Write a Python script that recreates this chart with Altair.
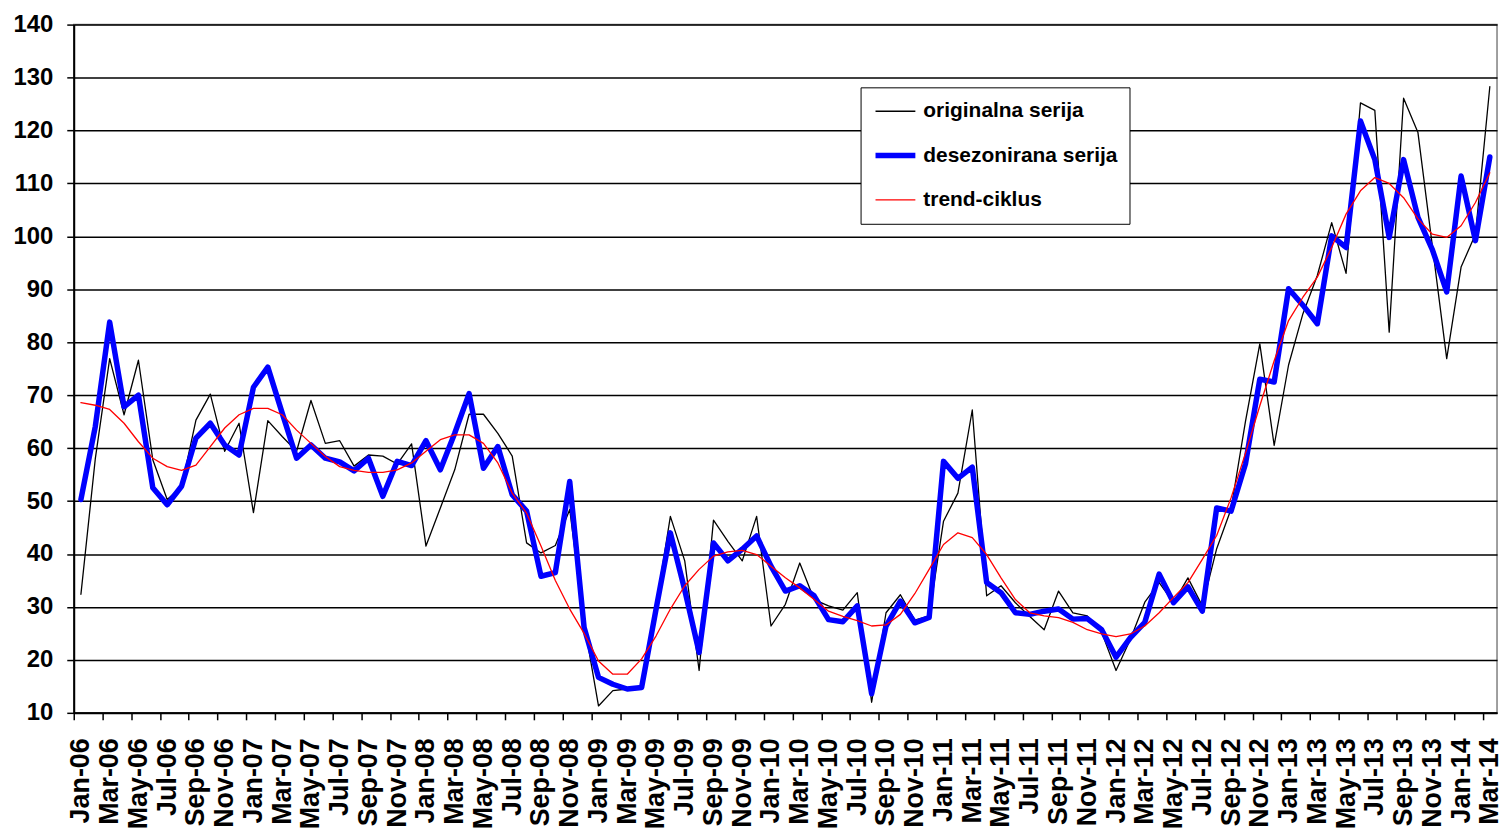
import altair as alt
import pandas as pd

month_names = ["Jan", "Feb", "Mar", "Apr", "May", "Jun", "Jul", "Aug", "Sep", "Oct", "Nov", "Dec"]
years = ["06", "07", "08", "09", "10", "11", "12", "13", "14"]
months = [f"{m}-{y}" for y in years for m in month_names][:99]  # Jan-06 .. Mar-14

series_names = ["originalna serija", "desezonirana serija", "trend-ciklus"]

original = [
    32.4, 58.0, 76.9, 66.3, 76.6, 57.8, 50.3, 52.7, 65.3, 70.2, 59.4, 64.7,
    47.8, 65.2, 62.2, 59.4, 69.0, 60.9, 61.4, 56.6, 58.7, 58.5, 57.0, 60.8,
    41.5, 48.7, 55.9, 66.4, 66.4, 62.8, 58.5, 42.1, 40.2, 41.6, 48.4, 27.0,
    11.3, 14.2, 14.5, 14.8, 30.0, 47.1, 38.7, 18.0, 46.4, 42.4, 38.7, 47.1,
    26.4, 30.5, 38.3, 31.4, 30.2, 29.4, 32.7, 12.0, 28.9, 32.3, 27.5, 28.3,
    46.2, 51.5, 67.2, 32.1, 34.0, 30.8, 28.2, 25.7, 33.0, 28.9, 28.3, 25.2,
    18.0, 23.9, 30.9, 34.6, 30.8, 35.5, 30.2, 41.0, 48.5, 65.0, 79.7, 60.5,
    75.7, 85.4, 92.6, 102.6, 93.0, 125.2, 123.8, 81.9, 126.1, 119.6, 98.2, 76.9,
    94.2, 100.4, 128.3,
]

deseasonal = [
    50.3, 64.1, 83.8, 67.8, 70.0, 52.5, 49.3, 52.8, 61.9, 64.7, 60.6, 58.7,
    71.5, 75.3, 66.6, 58.1, 60.6, 58.1, 57.4, 55.7, 58.1, 50.9, 57.5, 56.7,
    61.4, 55.9, 62.8, 70.3, 56.2, 60.3, 51.2, 48.1, 35.8, 36.5, 53.7, 26.1,
    16.7, 15.4, 14.5, 14.8, 29.5, 44.0, 33.2, 21.4, 42.1, 38.7, 40.9, 43.4,
    37.7, 33.0, 34.0, 32.1, 27.6, 27.2, 30.2, 13.6, 26.4, 31.1, 27.0, 28.0,
    57.5, 54.3, 56.4, 34.6, 32.7, 28.9, 28.6, 29.2, 29.6, 27.7, 27.8, 25.7,
    20.5, 24.2, 27.1, 36.2, 30.8, 33.8, 29.2, 48.7, 48.1, 57.0, 73.0, 72.5,
    90.1, 87.0, 83.5, 100.1, 97.9, 121.8, 114.5, 99.8, 114.5, 103.6, 97.5, 89.5,
    111.4, 99.2, 115.0,
]

trend = [
    68.6, 68.1, 67.3, 64.7, 61.2, 58.1, 56.5, 55.8, 56.8, 60.3, 63.8, 66.3,
    67.5, 67.5, 66.3, 63.4, 60.9, 58.4, 56.5, 55.8, 55.4, 55.4, 55.9, 57.2,
    59.4, 61.6, 62.5, 62.5, 60.9, 57.2, 51.5, 47.7, 41.5, 35.0, 29.6, 25.0,
    19.8, 17.3, 17.3, 20.2, 24.5, 29.6, 34.0, 37.1, 39.6, 40.4, 40.7, 39.9,
    37.7, 35.5, 33.6, 31.4, 29.2, 28.2, 27.4, 26.4, 26.6, 28.6, 32.5, 37.1,
    41.8, 44.0, 43.1, 39.9, 35.5, 31.4, 28.9, 28.3, 28.0, 27.1, 25.7, 24.9,
    24.4, 24.9, 26.4, 28.9, 31.8, 34.6, 39.0, 43.5, 50.6, 59.0, 68.0, 76.5,
    84.1, 88.5, 92.3, 97.9, 104.2, 108.6, 111.1, 110.0, 107.3, 103.3, 100.4, 99.8,
    102.0, 106.4, 112.0,
]

y_ticks = list(range(10, 141, 10))
x_label_values = months[::2]

frames = []
for name, vals in zip(series_names, [original, deseasonal, trend]):
    frames.append(pd.DataFrame({"month": months, "value": vals, "series": name}))
df = pd.concat(frames, ignore_index=True)

step = 1429 / len(months)

legend = alt.Legend(
    title=None,
    orient="none",
    legendX=790,
    legendY=63,
    symbolType="stroke",
    symbolSize=1600,
    clipHeight=24,
    rowPadding=20.5,
    padding=12,
    labelOffset=5,
    labelFontSize=21,
    labelFont="Liberation Sans",
    labelFontWeight="bold",
    labelColor="black",
    labelLimit=400,
    strokeColor="black",
    fillColor="white",
)

color = alt.Color(
    "series:N",
    scale=alt.Scale(domain=series_names, range=["#000000", "#0000FF", "#FF0000"]),
    legend=legend,
)
width_enc = alt.StrokeWidth(
    "series:N",
    scale=alt.Scale(type="ordinal", domain=series_names, range=[1.3, 5.5, 1.3]),
    legend=legend,
)

x_enc = alt.X(
    "month:O",
    sort=months,
    scale=alt.Scale(type="point", padding=0.5),
    axis=alt.Axis(
        values=x_label_values,
        title=None,
        labelAngle=270,
        labelFontSize=27,
        labelPadding=18,
        tickSize=7,
        tickOffset=-step / 2,
        labelOffset=step / 2,
        grid=False,
    ),
)
y_enc = alt.Y(
    "value:Q",
    scale=alt.Scale(domain=[10, 140], nice=False, zero=False),
    axis=alt.Axis(
        values=y_ticks,
        title=None,
        labelFontSize=24,
        labelPadding=14,
        tickSize=7,
        grid=True,
    ),
)

layers = []
for name in series_names:
    layers.append(
        alt.Chart(df)
        .transform_filter(alt.datum.series == name)
        .mark_line(strokeJoin="round", strokeCap="round")
        .encode(x=x_enc, y=y_enc, color=color, strokeWidth=width_enc)
    )

chart = (
    alt.layer(*layers)
    .properties(
        width=1429,
        height=691,
        padding={"left": 66, "top": 15, "right": 6, "bottom": 121},
        autosize=alt.AutoSizeParams(type="none"),
        background="white",
    )
    .configure_axis(
        domainColor="black",
        domainWidth=2,
        tickColor="black",
        tickWidth=1.5,
        gridColor="black",
        gridWidth=1.5,
        labelFont="Liberation Sans",
        labelFontWeight="bold",
        labelColor="black",
    )
    .configure_view(stroke="#808080", strokeWidth=1.5)
)

chart.save("out.html", embed_options={"renderer": "svg", "actions": False})
